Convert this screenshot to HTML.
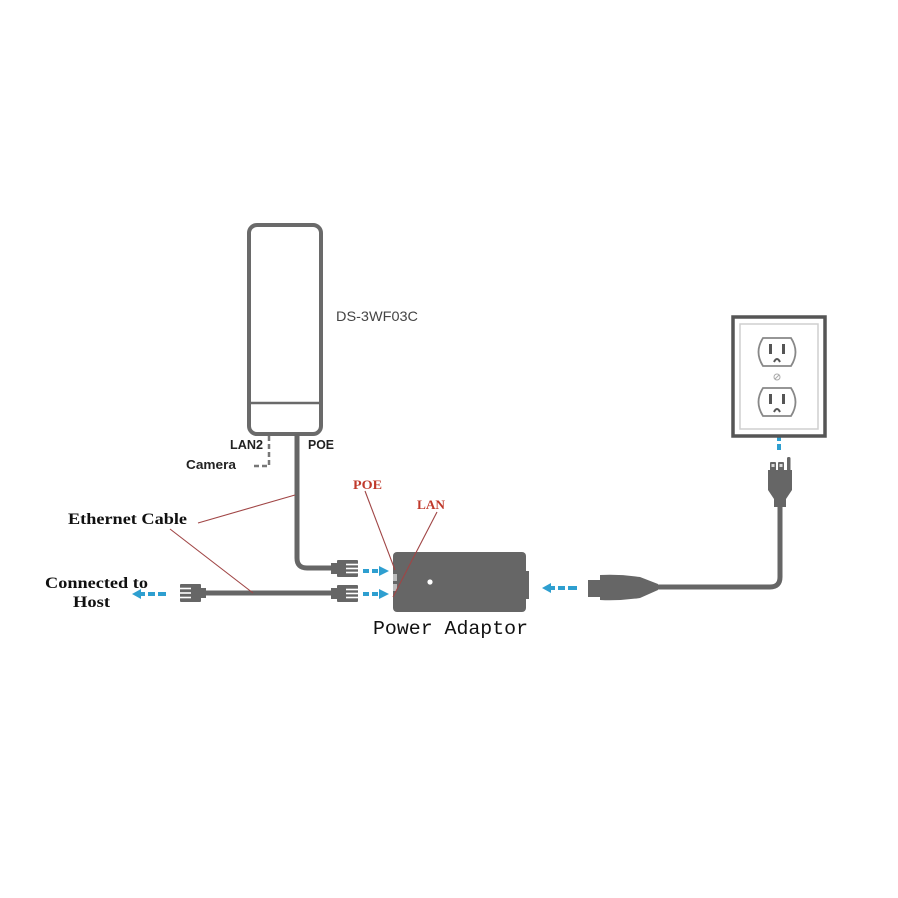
<!DOCTYPE html>
<html><head><meta charset="utf-8"><style>
html,body{margin:0;padding:0;background:#fff;}
svg{display:block;}
</style></head><body>
<svg width="898" height="898" viewBox="0 0 898 898" xmlns="http://www.w3.org/2000/svg">
<rect width="898" height="898" fill="#fff"/>
<!-- Antenna -->
<rect x="249" y="225" width="72" height="209" rx="8" fill="#fff" stroke="#6a6a6a" stroke-width="4"/>
<line x1="249" y1="403" x2="321" y2="403" stroke="#6a6a6a" stroke-width="2.5"/>
<text x="336" y="321" font-family="Liberation Sans, sans-serif" font-size="14" fill="#444" textLength="82" lengthAdjust="spacingAndGlyphs">DS-3WF03C</text>
<!-- LAN2 dashed -->
<path d="M269,436 V466 H254" fill="none" stroke="#777" stroke-width="2.5" stroke-dasharray="5,3"/>
<text x="230" y="449" font-family="Liberation Sans, sans-serif" font-weight="bold" font-size="12.5" fill="#222" textLength="33" lengthAdjust="spacingAndGlyphs">LAN2</text>
<text x="308" y="449" font-family="Liberation Sans, sans-serif" font-weight="bold" font-size="12.5" fill="#222" textLength="26" lengthAdjust="spacingAndGlyphs">POE</text>
<text x="186" y="469" font-family="Liberation Sans, sans-serif" font-weight="bold" font-size="13" fill="#222" textLength="50" lengthAdjust="spacingAndGlyphs">Camera</text>
<!-- POE cable -->
<path d="M297,434 V558 Q297,568 307,568 H334" fill="none" stroke="#666" stroke-width="5"/>
<!-- lower cable -->
<line x1="204" y1="593" x2="334" y2="593" stroke="#666" stroke-width="5"/>
<!-- connectors -->
<g fill="#666">
  <rect x="331" y="563" width="7" height="11"/>
  <rect x="337" y="560" width="21" height="17" rx="1"/>
  <rect x="331" y="588" width="7" height="11"/>
  <rect x="337" y="585" width="21" height="17" rx="1"/>
  <rect x="180" y="584" width="21" height="18" rx="1"/>
  <rect x="199" y="588" width="7" height="10"/>
</g>
<g stroke="#fff" stroke-width="1.6">
  <line x1="346" y1="564.5" x2="358" y2="564.5"/>
  <line x1="346" y1="568.5" x2="358" y2="568.5"/>
  <line x1="346" y1="572.5" x2="358" y2="572.5"/>
  <line x1="346" y1="589.5" x2="358" y2="589.5"/>
  <line x1="346" y1="593.5" x2="358" y2="593.5"/>
  <line x1="346" y1="597.5" x2="358" y2="597.5"/>
  <line x1="180" y1="588.5" x2="191" y2="588.5"/>
  <line x1="180" y1="593" x2="191" y2="593"/>
  <line x1="180" y1="597.5" x2="191" y2="597.5"/>
</g>
<!-- Power adaptor -->
<rect x="393" y="552" width="133" height="60" rx="4" fill="#666"/>
<rect x="525" y="571" width="4" height="28" fill="#666"/>
<rect x="393" y="574" width="4" height="7" fill="#bbb"/>
<rect x="393" y="584" width="4" height="7" fill="#bbb"/>
<circle cx="430" cy="582" r="2.6" fill="#fff"/>
<text x="373" y="634" font-family="Liberation Mono, monospace" font-size="19.5" fill="#111" textLength="155" lengthAdjust="spacingAndGlyphs">Power Adaptor</text>
<!-- Red labels -->
<text x="353" y="489" font-family="Liberation Serif, serif" font-weight="bold" font-size="13" fill="#c0392b" textLength="29" lengthAdjust="spacingAndGlyphs">POE</text>
<text x="417" y="509" font-family="Liberation Serif, serif" font-weight="bold" font-size="13" fill="#c0392b" textLength="28" lengthAdjust="spacingAndGlyphs">LAN</text>
<g stroke="#a04545" stroke-width="1.1">
  <line x1="365" y1="491" x2="395" y2="570"/>
  <line x1="437" y1="512" x2="393" y2="597"/>
  <line x1="198" y1="523" x2="295" y2="495"/>
  <line x1="170" y1="529" x2="253" y2="593"/>
</g>
<!-- Black labels -->
<text x="68" y="524" font-family="Liberation Serif, serif" font-weight="bold" font-size="15.5" fill="#111" textLength="119" lengthAdjust="spacingAndGlyphs">Ethernet Cable</text>
<text x="45" y="588" font-family="Liberation Serif, serif" font-weight="bold" font-size="15.5" fill="#111" textLength="103" lengthAdjust="spacingAndGlyphs">Connected to</text>
<text x="73" y="607" font-family="Liberation Serif, serif" font-weight="bold" font-size="15.5" fill="#111" textLength="37" lengthAdjust="spacingAndGlyphs">Host</text>
<!-- Blue arrows -->
<g fill="#2e9fd0">
  <rect x="363" y="569" width="6" height="4"/><rect x="372" y="569" width="6" height="4"/>
  <polygon points="379,566 389,571 379,576"/>
  <rect x="363" y="592" width="6" height="4"/><rect x="372" y="592" width="6" height="4"/>
  <polygon points="379,589 389,594 379,599"/>
  <polygon points="132,594 141,589 141,599"/>
  <rect x="140" y="592" width="5" height="4"/><rect x="148" y="592" width="7" height="4"/><rect x="158" y="592" width="8" height="4"/>
  <polygon points="542,588 551,583 551,593"/>
  <rect x="550" y="586" width="5" height="4"/><rect x="558" y="586" width="7" height="4"/><rect x="568" y="586" width="9" height="4"/>
  <polygon points="779,419 774,428 784,428"/>
  <rect x="777" y="427" width="4" height="5"/><rect x="777" y="435" width="4" height="6"/><rect x="777" y="444" width="4" height="6"/>
</g>
<!-- Power cord -->
<path d="M656,587 H770 Q780,587 780,577 V505" fill="none" stroke="#666" stroke-width="5"/>
<path d="M588,580 H600 V575 Q620,574 640,577 L658,584 V590 L640,598 Q620,601 600,600 V597 H588 Z" fill="#666"/>
<!-- plug -->
<path d="M768,470 H792 V490 L786,499 V507 H774 V499 L768,490 Z" fill="#666"/>
<rect x="770" y="462" width="6" height="10" rx="1" fill="#666"/>
<rect x="778" y="462" width="6" height="10" rx="1" fill="#666"/>
<rect x="771.5" y="464" width="3" height="3" fill="#ddd"/>
<rect x="779.5" y="464" width="3" height="3" fill="#ddd"/>
<rect x="787" y="457" width="3.5" height="15" rx="1.5" fill="#666"/>
<!-- Outlet -->
<rect x="733" y="317" width="92" height="119" fill="#fff" stroke="#555" stroke-width="3.5"/>
<rect x="740" y="324" width="78" height="105" fill="none" stroke="#cfcfcf" stroke-width="1.5"/>
<g stroke="#888" stroke-width="1.8" fill="#fff">
  <path d="M763,338 H791 Q800,352 791,366 H763 Q754,352 763,338 Z"/>
  <path d="M763,388 H791 Q800,402 791,416 H763 Q754,402 763,388 Z"/>
</g>
<g fill="#555">
  <rect x="769" y="344" width="3" height="10"/><rect x="782" y="344" width="3" height="10"/>
  <rect x="769" y="394" width="3" height="10"/><rect x="782" y="394" width="3" height="10"/>
</g>
<g fill="none" stroke="#555" stroke-width="2">
  <path d="M774,362 Q777,356 780,362"/>
  <path d="M774,412 Q777,406 780,412"/>
</g>
<circle cx="777" cy="377" r="3" fill="none" stroke="#aaa" stroke-width="1"/>
<line x1="775" y1="379" x2="779" y2="375" stroke="#aaa" stroke-width="1"/>
</svg>
</body></html>
